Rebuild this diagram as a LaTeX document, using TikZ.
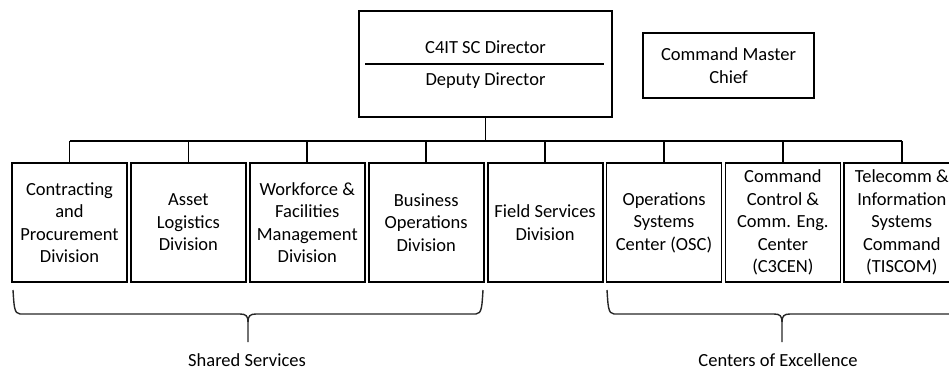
\documentclass[tikz,border=0pt]{standalone}
\usepackage{fontspec}
\setmainfont{Carlito}
\usepackage{tikz}
\usetikzlibrary{positioning, calc}

\tikzset{
  orgbox/.style={draw, line width=1.8, align=center, inner sep=0pt},
  unitbox/.style={orgbox, minimum width=115, minimum height=119},
  orgline/.style={line width=1.8},
  bracket/.style={line width=1.4, draw=black!85},
}

\begin{document}
\begin{tikzpicture}[x=1pt, y=-1pt, font=\fontsize{18.5}{22.5}\selectfont]

    % Page frame
    \useasboundingbox (0,0) rectangle (949,369);
    \clip (0,0) rectangle (949,369);

    % Director box with its split line
    \node[orgbox, minimum width=253, minimum height=106] (dir) at (485.5,64) {};
    \node (dirTop) at (485.5,47) {C4IT SC Director};
    \node (dirBot) at (485.5,81) {Deputy Director};
    \draw[line width=1.2] ([xshift=7]dir.west) -- ([xshift=-9]dir.east);

    % Command Master Chief
    \node[orgbox, minimum width=171, minimum height=65] (cmc) at (728.5,65.5)
        {Command Master\\Chief};

    % Divisions and centers
    \foreach \i/\txt in {
        1/{Contracting\\and\\Procurement\\Division},
        2/{Asset\\Logistics\\Division},
        3/{Workforce \&\\Facilities\\Management\\Division},
        4/{Business\\Operations\\Division},
        5/{Field Services\\Division},
        6/{Operations\\Systems\\Center (OSC)},
        7/{Command\\Control \&\\Comm. Eng.\\Center\\(C3CEN)},
        8/{Telecomm \&\\Information\\Systems\\Command\\(TISCOM)}} {
        \node[unitbox] (d\i) at ({69.5+118.9*(\i-1)},222.5) {\txt};
    }

    % Reporting lines
    \coordinate (bus) at (485.5,141);
    \draw[orgline] (dir.south) -- (bus);
    \draw[orgline] (d1.north |- bus) -- (d8.north |- bus);
    \foreach \i in {1,...,8} {
        \draw[orgline] (d\i.north |- bus) -- (d\i.north);
    }

    % Shared Services bracket
    \coordinate (ssL) at (13,290);
    \coordinate (ssR) at (483,290);
    \coordinate (ssTip) at (248,342);
    \draw[bracket] (ssL) .. controls (14,305) and (14,314) .. (20,314) -- (240,314)
        .. controls (246,314) and (248,316) .. (248,322) -- (ssTip);
    \draw[bracket] (ssR) .. controls (482,305) and (482,314) .. (476,314) -- (256,314)
        .. controls (250,314) and (248,316) .. (248,322);
    \node[anchor=base, inner sep=0pt] (ssLabel) at (247,366) {Shared Services};

    % Centers of Excellence bracket
    \coordinate (ceL) at (607,290);
    \coordinate (ceR) at (957,290);
    \coordinate (ceTip) at (782,342);
    \draw[bracket] (ceL) .. controls (608,305) and (608,314) .. (614,314) -- (774,314)
        .. controls (780,314) and (782,316) .. (782,322) -- (ceTip);
    \draw[bracket] (ceR) .. controls (956,305) and (956,314) .. (950,314) -- (790,314)
        .. controls (784,314) and (782,316) .. (782,322);
    \node[anchor=base, inner sep=0pt] (ceLabel) at (778,366) {Centers of Excellence};

\end{tikzpicture}
\end{document}
